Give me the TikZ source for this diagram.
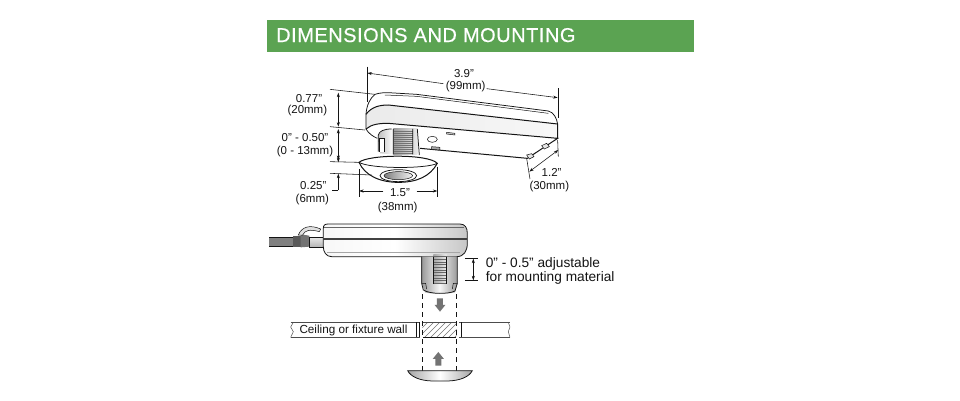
\documentclass[tikz,border=0pt]{standalone}
\usepackage{fontspec}
\setmainfont{Liberation Sans}
\usetikzlibrary{arrows.meta}
\definecolor{hdr}{HTML}{5BA352}
\definecolor{ink}{HTML}{141414}
\tikzset{
  ln/.style={draw=ink,line width=0.75pt},
  thin ln/.style={draw=ink,line width=0.5pt},
  dim/.style={draw=ink,line width=0.55pt},
  tip/.style={-{Stealth[length=4.5pt,width=3pt]}},
  tips/.style={{Stealth[length=4.5pt,width=3pt]}-{Stealth[length=4.5pt,width=3pt]}},
  lab/.style={inner sep=0pt,align=center,text=ink,font=\fontsize{11.5}{13}\selectfont},
  bigarrow/.style={fill=black!55,draw=none},
}
\begin{document}
\begin{tikzpicture}[x=1pt,y=-1pt]
\useasboundingbox (0,0) rectangle (960,400);
\fill[white] (0,0) rectangle (960,400);
\fill[hdr] (267,20) rectangle (694,52);
\node[anchor=base west,inner sep=0pt,text=white,font=\fontsize{20}{22}\selectfont] (title) at (276,42) {\addfontfeatures{LetterSpace=2.6,FakeBold=0.5}DIMENSIONS AND MOUNTING};

% ---------- upper view ----------
\begin{scope}[shift={(260,55)},x=0.3333pt,y=-0.3333pt]
  \path[fill=white] (318,175) .. controls (325,125) and (350,113) .. (385,113) -- (470,118) -- (865,168) .. controls (882,172) and (890,190) .. (893,205) -- (893,250) -- (800,310) -- (478,282) -- (350,250) -- (318,225) -- cycle;
  \shade[left color=black!8,right color=black!3] (318,175) .. controls (340,152) and (360,150) .. (385,150) -- (890,207) -- (890,247) -- (385,205) .. controls (350,205) and (330,210) .. (318,222) -- cycle;
  \draw[ln] (345,118) .. controls (360,113) and (375,113) .. (385,113) -- (470,118) -- (865,168) .. controls (882,172) and (890,190) .. (893,207);
  \draw[thin ln] (375,120) -- (470,124) -- (865,175);
  \draw[ln] (345,118) .. controls (330,130) and (320,150) .. (318,178) -- (318,222) .. controls (325,235) and (340,245) .. (352,250);
  \draw[ln,line width=1pt] (318,178) .. controls (335,155) and (360,150) .. (385,150) -- (893,207) -- (893,250);
  \draw[ln,line width=1pt] (318,222) .. controls (335,207) and (360,205) .. (385,205) -- (893,250) -- (802,310) -- (480,280);
  % collar and thread
  \shade[left color=black!25,right color=white] (355,250) .. controls (355,225) and (375,222) .. (400,222) -- (400,298) -- (360,295) -- cycle;
  \shade[left color=black!40,right color=black!8] (400,222) rectangle (472,300);
  \foreach \yy in {228,234,...,294} \draw[black!55,line width=0.35pt] (402,\yy) -- (460,\yy);
  \draw[ln] (355,290) -- (355,240) .. controls (358,228) and (372,222) .. (395,222);
  \draw[ln] (400,222) -- (400,298) (458,222) -- (458,298) (472,222) -- (478,300);
  \fill[white] (358,250) rectangle (373,290);
  \draw[thin ln] (358,290) -- (358,250) -- (373,250) -- (373,290);
  % small details
  \draw[thin ln,fill=white] (517,253) ellipse (5pt and 3pt);
  \draw[thin ln,fill=black!35] (515,275) -- (540,277) -- (540,285) -- (515,283) -- cycle;
  \draw[thin ln,fill=black!20] (560,232) -- (585,235) -- (585,240) -- (560,237) -- cycle;
  \draw[thin ln,fill=black!10] (800,300) -- (815,296) -- (822,305) -- (808,312) -- cycle;
  \draw[thin ln,fill=black!10] (845,272) -- (860,265) -- (868,275) -- (853,282) -- cycle;
  % flange
  \path[fill=white] (297,322) .. controls (325,298) and (505,296) .. (532,325) .. controls (510,365) and (470,382) .. (415,382) .. controls (360,382) and (315,362) .. (297,322) -- cycle;
  \draw[ln,line width=1pt] (297,322) .. controls (325,298) and (505,296) .. (532,325) .. controls (510,365) and (470,382) .. (415,382) .. controls (360,382) and (315,362) .. (297,322) -- cycle;
  \draw[ln] (297,322) .. controls (330,342) and (500,342) .. (532,325);
  \draw[ln,fill=white] (415,362) ellipse (18.3pt and 6pt);
  \shade[left color=black!50,right color=black!5,draw=ink,line width=0.5pt] (415,362) ellipse (14.3pt and 4pt);
  % dimension lines
  \draw[dim] (322,35) -- (322,140) (895,100) -- (895,190);
  \coordinate (a1) at (322,54); \coordinate (a2) at (893,128);
  \draw[dim,tip] (550,86) -- (a1);
  \draw[dim,tip] (680,101) -- (a2);
  \node[lab] (t39a) at (612,56) {3.9"};
  \node[lab] (t39b) at (617,95) {(99mm)};
  \draw[dim] (210,103) -- (345,118) (210,215) -- (315,225) (210,320) -- (297,322) (210,355) -- (335,360);
  \draw[dim,tips] (235,113) -- (235,215);
  \draw[dim,tips] (235,222) -- (235,315);
  \draw[dim,tip] (235,310) -- (235,322);
  \draw[dim,tip] (235,405) -- (235,356);
  \draw[dim] (235,405) -- (215,405);
  \node[lab] (t077a) at (147,130) {0.77"};
  \node[lab] (t077b) at (142,168) {(20mm)};
  \node[lab] (t050a) at (135,248) {0" - 0.50"};
  \node[lab] (t050b) at (135,290) {(0 - 13mm)};
  \node[lab] (t025a) at (160,392) {0.25"};
  \node[lab] (t025b) at (157,435) {(6mm)};
  \draw[dim] (297,342) -- (297,425) (532,335) -- (532,425);
  \draw[dim,tip] (370,408) -- (297,408);
  \draw[dim,tip] (470,408) -- (532,408);
  \node[lab] (t15a) at (420,412) {1.5"};
  \node[lab] (t15b) at (413,458) {(38mm)};
  \draw[dim] (800,310) -- (810,372) (893,255) -- (895,305);
  \draw[dim,tips] (808,350) -- (895,285);
  \node[lab] (t12a) at (875,352) {1.2"};
  \node[lab] (t12b) at (868,395) {(30mm)};
\end{scope}

% ---------- lower view ----------
\begin{scope}[shift={(260,215)},x=0.3333pt,y=-0.3333pt]
  % cable
  \fill[black!50] (28,68) rectangle (100,93);
  \draw[thin ln] (28,68) -- (100,68) (28,93) -- (100,93);
  \fill[black!65] (100,62) rectangle (122,97);
  \fill[black!55] (122,58) -- (148,62) -- (148,95) -- (122,97) -- cycle;
  \shade[top color=black!10,bottom color=black!30,draw=ink,line width=0.4pt] (148,68) rectangle (192,97);
  \draw[thin ln,fill=black!12] (115,60) .. controls (125,35) and (150,28) .. (182,42) -- (178,50) .. controls (150,42) and (135,45) .. (128,60) -- cycle;
  % housing
  \shade[left color=black!3,right color=black!22,middle color=white] (190,40) .. controls (190,30) and (195,27) .. (205,27) -- (600,27) .. controls (615,27) and (622,38) .. (622,55) -- (622,85) .. controls (622,108) and (612,125) .. (590,125) -- (215,125) .. controls (198,125) and (190,110) .. (190,95) -- cycle;
  \draw[ln,line width=0.8pt] (190,40) .. controls (190,30) and (195,27) .. (205,27) -- (600,27) .. controls (615,27) and (622,38) .. (622,55) -- (622,85) .. controls (622,108) and (612,125) .. (590,125) -- (215,125) .. controls (198,125) and (190,110) .. (190,95) -- cycle;
  \draw[black!60,line width=0.45pt] (192,38) -- (612,38);
  \draw[draw=black!75,line width=1.2pt] (190,72) -- (622,72);
  \draw[black!35,line width=0.5pt] (200,113) -- (600,113);
  % stem
  \shade[left color=black!40,right color=black!40,middle color=black!3] (485,125) -- (592,125) -- (592,205) -- (585,232) .. controls (560,238) and (515,238) .. (495,232) -- (485,205) -- cycle;
  \draw[ln] (485,125) -- (485,205) -- (490,225) .. controls (510,238) and (565,238) .. (585,228) -- (592,205) -- (592,125);
  \shade[left color=black!35,right color=black!8] (520,118) rectangle (560,205);
  \foreach \yy in {125,133,...,205} \draw[black!60,line width=0.5pt] (520,\yy) -- (560,\yy);
  \draw[thin ln] (520,125) -- (520,207) (560,125) -- (560,207);
  \draw[thin ln] (485,205) -- (497,205) -- (500,222) (592,205) -- (580,205) -- (577,222);
  % adjustment dimension
  \draw[dim] (615,130) -- (655,130) (615,197) -- (655,197);
  \draw[dim,tips] (640,131) -- (640,196);
  \node[lab,anchor=base west,align=left,font=\fontsize{13.7}{14}\selectfont] (ta) at (677,157) {0" - 0.5" adjustable};
  \node[lab,anchor=base west,align=left,font=\fontsize{13.7}{14}\selectfont] (tb) at (677,199) {for mounting material};
  % wall
  \draw[thin ln,draw=black!70] (92,322) -- (750,322) (92,367) -- (750,367);
  \draw[thin ln,draw=black!70] (100,322) -- (92,336) -- (100,350) -- (92,367);
  \draw[thin ln,draw=black!70] (745,322) -- (750,336) -- (745,350) -- (750,367);
  \fill[white] (480,320) rectangle (598,369);
  \node[lab,anchor=base west,font=\fontsize{11.7}{13}\selectfont] (wall) at (118,355) {Ceiling or fixture wall};
  \begin{scope}
    \clip (487,322) rectangle (590,367);
    \foreach \xx in {440,458,...,640} \draw[black!55,line width=0.4pt] (\xx,367) -- (\xx+45,322);
  \end{scope}
  \draw[black!70,line width=0.45pt] (487,322) -- (590,322);
  \draw[thin ln] (470,322) -- (470,367) (478,322) -- (478,367) (603,322) -- (603,367);
  \draw[ln,line width=0.9pt] (490,367) -- (587,367);
  % dashes
  \draw[dim,dash pattern=on 5pt off 4pt] (487,238) -- (487,470);
  \draw[dim,dash pattern=on 5pt off 4pt] (590,238) -- (590,470);
  % arrows
  \path[bigarrow] (531,250) -- (549,250) -- (549,270) -- (556,270) -- (540,290) -- (524,270) -- (531,270) -- cycle;
  \path[bigarrow] (526,452) -- (544,452) -- (544,432) -- (552,432) -- (535,411) -- (518,432) -- (526,432) -- cycle;
  % knob
  \shade[left color=black!35,right color=black!35,middle color=white] (443,467) -- (637,467) .. controls (628,485) and (600,498) .. (560,498) -- (520,498) .. controls (480,498) and (452,485) .. (443,467) -- cycle;
  \draw[ln] (443,467) -- (637,467) .. controls (628,485) and (600,498) .. (560,498) -- (520,498) .. controls (480,498) and (452,485) .. (443,467) -- cycle;
\end{scope}
\end{tikzpicture}
\end{document}
